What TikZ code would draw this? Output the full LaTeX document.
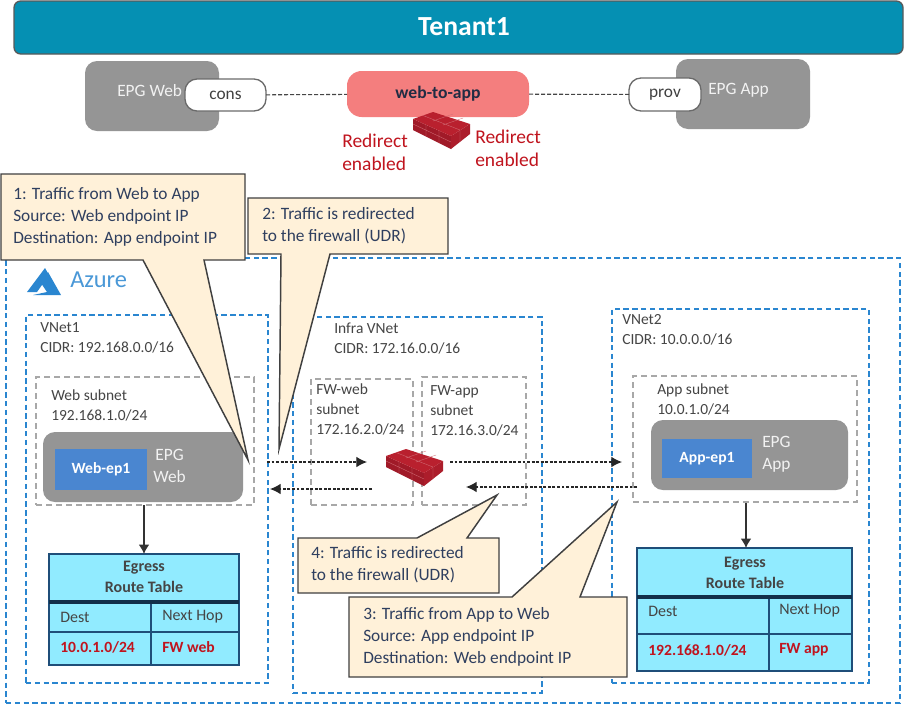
\documentclass[tikz,border=0pt]{standalone}
\usepackage{fontspec}
\setmainfont{Carlito}
\usetikzlibrary{arrows.meta}
\definecolor{tenantc}{HTML}{0590B3}
\definecolor{epgc}{HTML}{959595}
\definecolor{salmon}{HTML}{F47E7E}
\definecolor{azblue}{HTML}{2A86D0}
\definecolor{subgray}{HTML}{A8A8A8}
\definecolor{cream}{HTML}{FFF1D9}
\definecolor{navytx}{HTML}{2F3F5F}
\definecolor{graytx}{HTML}{454545}
\definecolor{redtx}{HTML}{C0141E}
\definecolor{tablec}{HTML}{91EBFF}
\definecolor{tableln}{HTML}{1F4E79}
\definecolor{epblue}{HTML}{4A86D0}
\tikzset{
  rect/.style={anchor=north west,inner sep=0pt,outer sep=0pt},
  azbox/.style={rect,draw=azblue,line width=1.1pt,dash pattern=on 4pt off 2.6pt},
  subbox/.style={rect,draw=subgray,line width=0.8pt,dash pattern=on 4.5pt off 3pt},
  epgbox/.style={rect,fill=epgc,rounded corners=9pt},
  epbox/.style={rect,fill=epblue,text=white,font=\fontsize{11.7}{13}\selectfont\bfseries},
  pill/.style={rect,fill=white,draw=graytx!80,line width=1pt,rounded corners=9pt,text=black!75,font=\fontsize{13}{15}\selectfont},
  tbl/.style={rect,fill=tablec,draw=tableln,line width=1.1pt},
  tline/.style={draw=tableln,line width=1pt},
  thead/.style={draw=tableln!60!black,line width=2.6pt},
  label/.style={anchor=west,inner sep=0pt,align=left,text=graytx,font=\fontsize{11.6}{15}\selectfont},
  epgtx/.style={anchor=west,inner sep=0pt,align=left,text=white!90!gray,font=\fontsize{13}{16.5}\selectfont},
  calltx/.style={anchor=north west,inner sep=0pt,align=left,text=navytx,font=\fontsize{13}{16.5}\selectfont},
  redirect/.style={anchor=west,inner sep=0pt,align=left,text=redtx,font=\fontsize{14.6}{17}\selectfont},
  callout/.style={fill=cream,draw=black!75,line width=1.1pt,line join=miter},
  thtx/.style={inner sep=0pt,text=graytx,font=\fontsize{12}{14}\selectfont\bfseries},
  tctx/.style={anchor=west,inner sep=0pt,text=graytx,font=\fontsize{12}{14}\selectfont},
  trtx/.style={anchor=west,inner sep=0pt,text=redtx,font=\fontsize{11.7}{14}\selectfont\bfseries},
  flow/.style={draw=black!85,line width=0.9pt,dash pattern=on 2.2pt off 1.2pt,-{Latex[length=8pt,width=8pt]}},
  solidarrow/.style={draw=black!80,line width=1.1pt,-{Latex[length=7pt,width=8pt]}},
  contract/.style={draw=graytx,line width=0.8pt,dash pattern=on 3pt off 1.5pt},
  fwtop/.style={fill=fwA},fwleft/.style={fill=fwB},fwright/.style={fill=fwC},
}
\definecolor{fwA}{HTML}{B9202E}
\definecolor{fwB}{HTML}{A01A28}
\definecolor{fwC}{HTML}{AC1D2B}
% #1 name, #2 style, #3 x1, #4 y1, #5 x2, #6 y2, #7 text
\newcommand\bx[7]{\node[#2,minimum width={(#5-#3)*0.75pt},minimum height={(#6-#4)*0.75pt}] (#1) at (#3,#4) {#7};}
% firewall icon: top-left of its bounding box at (#1,#2)
\newcommand\firewall[2]{%
  \begin{scope}[shift={(#1,#2)}]
    \fill[fwleft] (0,7) -- (38,24) -- (38,37) -- (0,18) -- cycle;
    \fill[fwright] (38,24) -- (57,12) -- (57,22) -- (38,37) -- cycle;
    \fill[fwtop] (0,7) -- (20,0) -- (57,12) -- (38,24) -- cycle;
    \draw[white!35!fwA,line width=0.25pt] (10,3.5) -- (47,18) (20,9) -- (40,2) (30,13) -- (50,6);
    \draw[white!35!fwA,line width=0.25pt] (0,12) -- (38,30) (13,13) -- (13,24) (26,19) -- (26,31) (47,18) -- (47,30);
  \end{scope}}
\begin{document}
\begin{tikzpicture}[x=0.75pt,y=-0.75pt]
\useasboundingbox (0,0) rectangle (917,704);
\fill[white] (0,0) rectangle (917,704);
% Tenant
\bx{tenant}{rect,fill=tenantc,draw=black!65,line width=1pt,rounded corners=5pt}{14}{1}{903}{54}{}
\node[inner sep=0pt,text=white,font=\fontsize{20.7}{22}\selectfont\bfseries] (tenanttx) at (464,27) {Tenant1};
% Contract row
\bx{epgweb}{epgbox}{85}{61}{219}{131}{}
\bx{epgapp}{epgbox}{676}{59}{810}{129}{}
\node[epgtx] (epgwebtx) at (117,91) {EPG Web};
\node[epgtx] (epgapptx) at (708,90) {EPG App};
\bx{cons}{pill}{185}{79}{266}{111}{cons}
\bx{prov}{pill}{629}{78}{701}{111}{prov}
\bx{contractbox}{rect,fill=salmon,rounded corners=11pt,text=navytx!70!black,font=\fontsize{13.2}{15}\selectfont\bfseries}{347}{71}{529}{117}{web-to-app}
\draw[contract] (cons) -- (contractbox);
\draw[contract] (contractbox) -- (prov);
\firewall{413}{112}
\node[redirect] (redl) at (342,152) {Redirect\\enabled};
\node[redirect] (redr) at (475,148) {Redirect\\enabled};
% Azure frame
\bx{azure}{azbox}{6}{258}{900}{703}{}
\fill[azblue] (45,268) -- (27,292) -- (37,292) -- (49,275) -- cycle;
\fill[azblue] (48,272) -- (61,295) -- (33,295) -- (47,292) -- (41,283) -- cycle;
\node[anchor=west,inner sep=0pt,text=azblue!85!white,font=\fontsize{18.3}{20}\selectfont] (azuretx) at (70,280) {Azure};
% VNets
\bx{vnetone}{azbox}{26}{315}{268}{683}{}
\bx{infra}{azbox}{293}{317}{542}{693}{}
\bx{vnettwo}{azbox}{612}{309}{869}{683}{}
\node[label] (vnetonetx) at (40,338) {VNet1\\CIDR: 192.168.0.0/16};
\node[label] (infratx) at (334,339) {Infra VNet\\CIDR: 172.16.0.0/16};
\node[label] (vnettwotx) at (622,330) {VNet2\\CIDR: 10.0.0.0/16};
% Subnets
\bx{websub}{subbox}{36}{377}{254}{505}{}
\bx{fwwebsub}{subbox}{311}{379}{413}{505}{}
\bx{fwappsub}{subbox}{422}{377}{526}{505}{}
\bx{appsub}{subbox}{633}{376}{857}{502}{}
\node[label] (websubtx) at (51,405) {Web subnet\\192.168.1.0/24};
\node[label] (fwwebtx) at (316,409) {FW-web\\subnet\\172.16.2.0/24};
\node[label] (fwapptx) at (430,411) {FW-app\\subnet\\172.16.3.0/24};
\node[label] (appsubtx) at (657,399) {App subnet\\10.0.1.0/24};
% EPGs
\bx{webepg}{epgbox}{43}{432}{243}{502}{}
\bx{appepg}{epgbox}{651}{420}{848}{490}{}
\bx{webep}{epbox}{55}{449}{147}{490}{Web-ep1}
\bx{appep}{epbox}{662}{439}{752}{478}{App-ep1}
\node[epgtx,align=center] (webepgtx) at (153,466) {EPG\\Web};
\node[epgtx] (appepgtx) at (762,454) {EPG\\App};
% Route tables
\bx{tblweb}{tbl}{49}{554}{239}{665}{}
\bx{tblapp}{tbl}{637}{548}{852}{671}{}
\coordinate (wl) at (49,602); \coordinate (wr) at (239,602);
\coordinate (wl2) at (49,632); \coordinate (wr2) at (239,632);
\coordinate (wt) at (151,602); \coordinate (wb) at (151,665);
\draw[tline] (wl2) -- (wr2); \draw[tline] (wt) -- (wb);
\draw[thead] (wl) -- (wr);
\coordinate (al) at (637,597); \coordinate (ar) at (852,597);
\coordinate (al2) at (637,634); \coordinate (ar2) at (852,634);
\coordinate (at) at (769,597); \coordinate (ab) at (769,671);
\draw[tline] (al2) -- (ar2); \draw[tline] (at) -- (ab);
\draw[thead] (al) -- (ar);
\node[thtx] (wh1) at (144,568) {Egress};
\node[thtx] (wh2) at (144,587) {Route Table};
\node[tctx] (wc1) at (60,617) {Dest};
\node[tctx] (wc2) at (162,617) {Next Hop};
\node[trtx] (wr1) at (60,647) {10.0.1.0/24};
\node[trtx] (wr3) at (162,647) {FW web};
\node[thtx] (ah1) at (745,564) {Egress};
\node[thtx] (ah2) at (745,583) {Route Table};
\node[tctx] (ac1) at (648,611) {Dest};
\node[tctx] (ac2) at (779,611) {Next Hop};
\node[trtx] (ar1) at (648,650) {192.168.1.0/24};
\node[trtx] (ar3) at (779,650) {FW app};
% Route arrows
\coordinate (wa1) at (144,505); \coordinate (wa2) at (144,554);
\coordinate (aa1) at (746,503); \coordinate (aa2) at (746,548);
\draw[solidarrow] (wa1) -- (wa2);
\draw[solidarrow] (aa1) -- (aa2);
% Firewall and flows
\firewall{386}{449}
\coordinate (f1a) at (267,462); \coordinate (f1b) at (367,462);
\coordinate (f2a) at (372,489); \coordinate (f2b) at (270,489);
\coordinate (f3a) at (450,462); \coordinate (f3b) at (622,462);
\coordinate (f4a) at (637,487); \coordinate (f4b) at (466,487);
\draw[flow] (f1a) -- (f1b);
\draw[flow] (f2a) -- (f2b);
\draw[flow] (f3a) -- (f3b);
\draw[flow] (f4a) -- (f4b);
% Callouts
\draw[callout] (1,174) -- (245,174) -- (245,260) -- (204,260) -- (248,460) -- (143,260) -- (1,260) -- cycle;
\draw[callout] (248,198) -- (448,198) -- (448,254) -- (330,254) -- (279,449) -- (281,254) -- (248,254) -- cycle;
\draw[callout] (298,538) -- (417,538) -- (497,495) -- (467,538) -- (499,538) -- (499,593) -- (298,593) -- cycle;
\draw[callout] (349,597) -- (512,597) -- (617,502) -- (580,597) -- (627,597) -- (627,677) -- (349,677) -- cycle;
\node[calltx] (c1) at (13,187) {1: Traffic from Web to App\\Source: Web endpoint IP\\Destination: App endpoint IP};
\node[calltx] (c2) at (262,207) {2: Traffic is redirected\\to the firewall (UDR)};
\node[calltx] (c4) at (311,546) {4: Traffic is redirected\\to the firewall (UDR)};
\node[calltx] (c3) at (363,607) {3: Traffic from App to Web\\Source: App endpoint IP\\Destination: Web endpoint IP};
\end{tikzpicture}
\end{document}
